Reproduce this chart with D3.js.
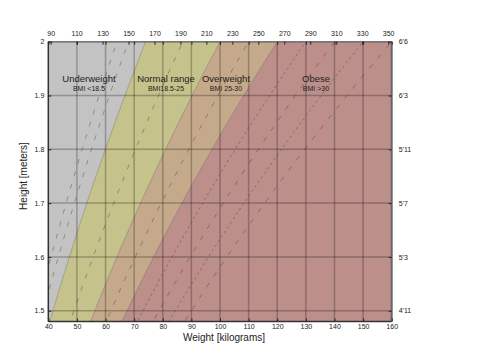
<!DOCTYPE html>
<html>
<head>
<meta charset="utf-8">
<script src="https://cdn.jsdelivr.net/npm/d3@7"></script>
<style>
  body { margin: 0; background: #fff; }
  svg text { font-family: "Liberation Sans", Arial, sans-serif; fill: #222; }
</style>
</head>
<body>
<div class="chart"></div>
<script>
// BMI bands
var bandNames = ["Underweight", "Normal range", "Overweight", "Obese"];
var bandSubs = ["BMI <18.5", "BMI18.5-25", "BMI 25-30", "BMI >30"];
var bandLimits = [0, 18.5, 25, 30, 100];
var bandColors = ["#c3c3c3", "#c6c28c", "#c5a98b", "#bc8f8b"];
var bandLabelX = [89, 166, 226, 316]; // pixel centre of each band label

// dashed BMI guide lines
var longDash = [16, 17, 21.75, 27.5, 35, 40];
var shortDash = [32.5, 37.5];

// axes
var kgTicks = [40, 50, 60, 70, 80, 90, 100, 110, 120, 130, 140, 150, 160];
var lbTicks = [90, 110, 130, 150, 170, 190, 210, 230, 250, 270, 290, 310, 330, 350];
var mTicks = [1.5, 1.6, 1.7, 1.8, 1.9, 2];
var ftLabels = ["4'11", "5'3", "5'7", "5'11", "6'3", "6'6"];

var width = 500, height = 354;
var pLeft = 48.3, pRight = 391.7, pTop = 41.7, pBottom = 321.5;

var svg = d3.select(".chart").append("svg")
    .attr("width", width)
    .attr("height", height);

var x = d3.scaleLinear().domain([40, 160]).range([pLeft, pRight]);
var y = d3.scaleLinear().domain([1.48, 2]).range([pBottom, pTop]);

svg.append("clipPath").attr("id", "plot")
    .append("rect")
    .attr("x", pLeft).attr("y", pTop)
    .attr("width", pRight - pLeft).attr("height", pBottom - pTop);

var plot = svg.append("g").attr("clip-path", "url(#plot)");

var hs = d3.range(1.40, 2.0501, 0.01);

// band areas
bandColors.forEach(function (c, i) {
    var b0 = bandLimits[i], b1 = bandLimits[i + 1];
    plot.append("path")
        .datum(hs)
        .attr("d", d3.area()
            .y(function (h) { return y(h); })
            .x0(function (h) { return x(b0 * h * h); })
            .x1(function (h) { return x(b1 * h * h); }))
        .attr("fill", c);
});

var bmiLine = function (b) {
    return d3.line()
        .x(function (h) { return x(b * h * h); })
        .y(function (h) { return y(h); })(hs);
};

// band boundaries
plot.selectAll(".edge")
    .data(bandLimits.slice(1, 4))
    .enter()
    .append("path")
    .attr("d", bmiLine)
    .attr("fill", "none")
    .attr("stroke", "rgba(0,0,0,0.22)")
    .attr("stroke-width", 1);

// grid
plot.selectAll(".vg")
    .data(kgTicks)
    .enter()
    .append("line")
    .attr("x1", function (d) { return x(d); })
    .attr("x2", function (d) { return x(d); })
    .attr("y1", pTop).attr("y2", pBottom)
    .attr("stroke", "rgba(0,0,0,0.25)")
    .attr("stroke-width", 1.5);

plot.selectAll(".hg")
    .data(mTicks)
    .enter()
    .append("line")
    .attr("y1", function (d) { return y(d); })
    .attr("y2", function (d) { return y(d); })
    .attr("x1", pLeft).attr("x2", pRight)
    .attr("stroke", "rgba(0,0,0,0.25)")
    .attr("stroke-width", 1.5);

// dashed guides
plot.selectAll(".ld")
    .data(longDash)
    .enter()
    .append("path")
    .attr("d", bmiLine)
    .attr("fill", "none")
    .attr("stroke", "rgba(60,40,40,0.45)")
    .attr("stroke-width", 0.8)
    .attr("stroke-dasharray", "5,8");

plot.selectAll(".sd")
    .data(shortDash)
    .enter()
    .append("path")
    .attr("d", bmiLine)
    .attr("fill", "none")
    .attr("stroke", "rgba(60,40,40,0.45)")
    .attr("stroke-width", 0.8)
    .attr("stroke-dasharray", "2.5,3");

// band labels
bandNames.forEach(function (n, i) {
    svg.append("text")
        .attr("x", bandLabelX[i])
        .attr("y", 81.7)
        .attr("text-anchor", "middle")
        .style("font-size", "9.5px")
        .text(n);
    svg.append("text")
        .attr("x", bandLabelX[i])
        .attr("y", 90.7)
        .attr("text-anchor", "middle")
        .style("font-size", "7px")
        .text(bandSubs[i]);
});

// frame
svg.append("line").attr("x1", pLeft).attr("x2", pRight).attr("y1", pTop).attr("y2", pTop)
    .attr("stroke", "#777").attr("stroke-width", 1.5);
svg.append("line").attr("x1", pRight).attr("x2", pRight).attr("y1", pTop).attr("y2", pBottom)
    .attr("stroke", "#666").attr("stroke-width", 2);
svg.append("line").attr("x1", pLeft).attr("x2", pLeft).attr("y1", pTop).attr("y2", pBottom)
    .attr("stroke", "#333").attr("stroke-width", 1.5);
svg.append("line").attr("x1", pLeft).attr("x2", pRight).attr("y1", pBottom).attr("y2", pBottom)
    .attr("stroke", "#333").attr("stroke-width", 1.5);

// bottom axis
var xAxis = d3.axisBottom(x).tickValues(kgTicks).tickSize(-3).tickPadding(3);
var gx = svg.append("g").attr("transform", "translate(0," + pBottom + ")").call(xAxis);
gx.select(".domain").remove();
gx.selectAll("text").style("font-size", "7px");

// top kg ticks (mirrored) and lb axis
var gxt = svg.append("g").attr("transform", "translate(0," + pTop + ")")
    .call(d3.axisTop(x).tickValues(kgTicks).tickSize(-3).tickFormat(""));
gxt.select(".domain").remove();

var lb = d3.scaleLinear()
    .domain([40 / 0.45359237, 160 / 0.45359237])
    .range([pLeft, pRight]);
var gl = svg.append("g").attr("transform", "translate(0," + pTop + ")")
    .call(d3.axisTop(lb).tickValues(lbTicks).tickSize(-3).tickPadding(6));
gl.select(".domain").remove();
gl.selectAll("text").style("font-size", "7px");

// left axis
var gy = svg.append("g").attr("transform", "translate(" + pLeft + ",0)")
    .call(d3.axisLeft(y).tickValues(mTicks).tickSize(-3).tickPadding(4)
        .tickFormat(function (d) { return String(d); }));
gy.select(".domain").remove();
gy.selectAll("text").style("font-size", "7px");

// right axis, imperial labels
var gr = svg.append("g").attr("transform", "translate(" + pRight + ",0)")
    .call(d3.axisRight(y).tickValues(mTicks).tickSize(-3).tickPadding(7)
        .tickFormat(function (d, i) { return ftLabels[i]; }));
gr.select(".domain").remove();
gr.selectAll("text").style("font-size", "7px");

svg.selectAll(".tick line").attr("stroke", "#222");

// axis titles
svg.append("text")
    .attr("x", 224)
    .attr("y", 341)
    .attr("text-anchor", "middle")
    .style("font-size", "10px")
    .text("Weight [kilograms]");

svg.append("text")
    .attr("transform", "translate(27,176) rotate(-90)")
    .attr("text-anchor", "middle")
    .style("font-size", "10px")
    .text("Height [meters]");
</script>
</body>
</html>
